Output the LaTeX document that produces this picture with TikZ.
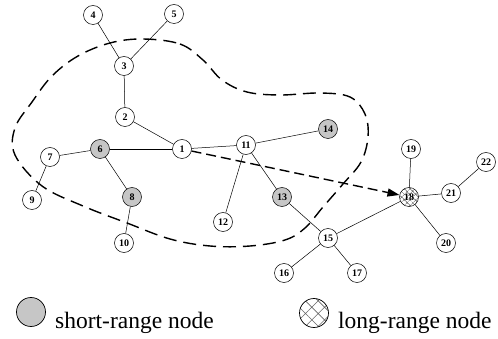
\documentclass[tikz,border=0pt]{standalone}
\usepackage{fontspec}
\setmainfont{Liberation Serif}
\usetikzlibrary{arrows.meta,patterns.meta}
\begin{document}
\begin{tikzpicture}[x=1pt,y=-1pt,
  nd/.style={circle,draw,line width=0.5pt,minimum size=19pt,inner sep=0pt,font=\fontsize{10}{10}\selectfont\bfseries,fill=white},
  sr/.style={nd,fill=gray!45},
  lr/.style={nd,fill=none,pattern={Hatch[angle=45,distance=4pt,line width=0.45pt]},pattern color=black!60},
  ed/.style={line width=0.5pt},
  bigdash/.style={line width=1.4pt,dash pattern=on 13pt off 7pt},
  legtext/.style={anchor=base west,inner sep=0pt,font=\fontsize{23.5}{24}\selectfont}]
\useasboundingbox (0,0) rectangle (498,339);
% region boundary
\draw[bigdash] plot[smooth cycle,tension=0.6] coordinates {
 (143,39) (180,44) (203,60) (222,80) (247,92) (280,95) (320,93) (350,97)
 (365,114) (368,137) (361,162) (343,184) (323,207) (305,228) (285,240)
 (250,246) (210,246) (170,239) (127,223) (83,206) (42,186) (15,155)
 (15,128) (32,102) (52,76) (78,56) (110,43)};
% nodes
\node[nd] (n1) at (182,149) {1};
\node[nd] (n2) at (125,117) {2};
\node[nd] (n3) at (124,66) {3};
\node[nd] (n4) at (93,15) {4};
\node[nd] (n5) at (174,14) {5};
\node[sr] (n6) at (100,149) {6};
\node[nd] (n7) at (50,157) {7};
\node[sr] (n8) at (132,197) {8};
\node[nd] (n9) at (32,200) {9};
\node[nd] (n10) at (124,243) {10};
\node[nd] (n11) at (246,145) {11};
\node[nd] (n12) at (223,222) {12};
\node[sr] (n13) at (282,197) {13};
\node[sr] (n14) at (328,129) {14};
\node[nd] (n15) at (328,238) {15};
\node[nd] (n16) at (284,273) {16};
\node[nd] (n17) at (357,273) {17};
\node[lr] (n18) at (409,197) {18};
\node[nd] (n19) at (411,149) {19};
\node[nd] (n20) at (446,243) {20};
\node[nd] (n21) at (451,193) {21};
\node[nd] (n22) at (486,162) {22};
% edges
\draw[ed] (n4) -- (n3);
\draw[ed] (n5) -- (n3);
\draw[ed] (n3) -- (n2);
\draw[ed] (n2) -- (n1);
\draw[ed] (n1) -- (n6);
\draw[ed] (n6) -- (n7);
\draw[ed] (n6) -- (n8);
\draw[ed] (n7) -- (n9);
\draw[ed] (n8) -- (n10);
\draw[ed] (n1) -- (n11);
\draw[ed] (n11) -- (n12);
\draw[ed] (n11) -- (n14);
\draw[ed] (n11) -- (n13);
\draw[ed] (n13) -- (n15);
\draw[ed] (n15) -- (n16);
\draw[ed] (n15) -- (n17);
\draw[ed] (n15) -- (n18);
\draw[ed] (n18) -- (n19);
\draw[ed] (n18) -- (n20);
\draw[ed] (n18) -- (n21);
\draw[ed] (n21) -- (n22);
% long-range link
\draw[bigdash,dash pattern=on 10pt off 5pt,-{Triangle[length=12pt,width=8pt]}] (n1) -- (n18);
% legend
\node[circle,draw,line width=0.7pt,minimum width=29pt,minimum height=27pt,inner sep=0pt,fill=gray!45] (lgs) at (31,312) {};
\node[legtext] (lgst) at (55,328) {short-range node};
\node[circle,draw,line width=0.7pt,minimum size=29pt,inner sep=0pt,pattern={Hatch[angle=45,distance=9pt,line width=0.6pt]},pattern color=black!60] (lgl) at (314,313) {};
\node[legtext] (lglt) at (338,328) {long-range node};
\end{tikzpicture}
\end{document}
